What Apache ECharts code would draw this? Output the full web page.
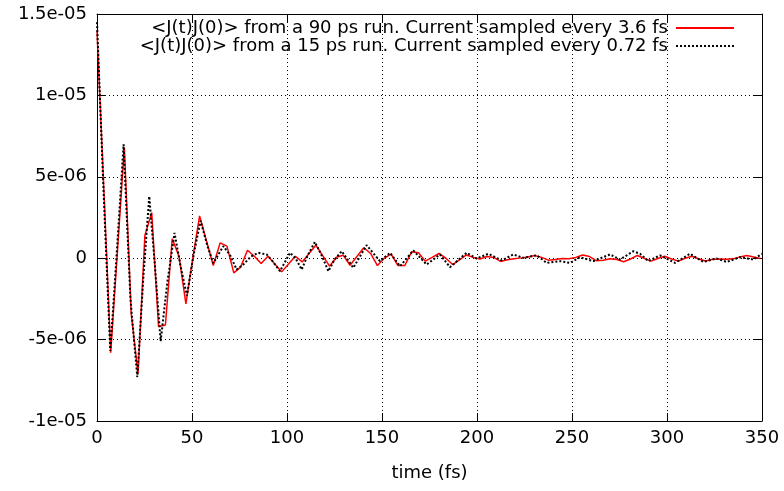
<!DOCTYPE html>
<html>
<head>
<meta charset="utf-8">
<script src="https://cdn.jsdelivr.net/npm/echarts@6/dist/echarts.min.js"></script>
<style>html,body{margin:0;padding:0;background:#fff}#c{width:784px;height:491px}</style>
</head>
<body>
<div id="c"></div>
<script>
// values in units of 1e-6
const redName = '<J(t)J(0)> from a 90 ps run. Current sampled every 3.6 fs';
const blackName = '<J(t)J(0)> from a 15 ps run. Current sampled every 0.72 fs';
const redTimes = [0,3.6,7.2,10.8,14.4,18,21.6,25.2,28.8,32.4,36,39.6,43.2,46.8,50.4,54,57.6,61.2,64.8,68.4,72,75.6,79.2,82.8,86.4,90,93.6,97.2,100.8,104.4,108,111.6,115.2,118.8,122.4,126,129.6,133.2,136.8,140.4,144,147.6,151.2,154.8,158.4,162,165.6,169.2,172.8,176.4,180,183.6,187.2,190.8,194.4,198,201.6,205.2,208.8,212.4,216,219.6,223.2,226.8,230.4,234,237.6,241.2,244.8,248.4,252,255.6,259.2,262.8,266.4,270,273.6,277.2,280.8,284.4,288,291.6,295.2,298.8,302.4,306,309.6,313.2,316.8,320.4,324,327.6,331.2,334.8,338.4,342,345.6,349.2];
const redValues = [14.0,4.2,-5.8,0.5,6.8,-3.4,-7.1,1.4,2.8,-4.2,-4.1,1.2,0.1,-2.8,0.0,2.6,1.07,-0.45,0.94,0.74,-0.9,-0.55,0.49,0.12,-0.33,0.12,-0.35,-0.84,-0.35,0.12,-0.23,0.29,0.8,0.16,-0.49,0.06,0.18,-0.43,0.1,0.64,0.29,-0.45,0.0,0.25,-0.45,-0.45,0.39,0.33,-0.18,0.05,0.29,0.0,-0.39,-0.1,0.2,0.05,-0.05,0.1,0.05,-0.2,-0.1,-0.03,0.02,0.08,0.17,0.05,-0.12,-0.08,-0.02,-0.04,0.05,0.2,0.1,-0.15,-0.12,-0.03,-0.08,-0.22,-0.05,0.17,0.0,-0.18,-0.02,0.12,-0.05,-0.18,0.0,0.12,-0.05,-0.17,-0.06,-0.05,-0.07,-0.04,0.08,0.16,0.08,-0.02];
const blackTimes = [0,3.5,7,10.5,14,17.6,21.2,24.5,27.5,30.5,33.5,37,40.8,44,47.3,51,54.5,58,61.2,66.5,70,73.5,77,81,84.9,89.3,92.5,96.3,101.6,104.5,107.7,111,114.7,118.5,121.8,125,128.8,134.9,141.9,148.9,154.2,159.5,166.5,173.5,180.5,185.8,194.5,199.8,206,213,219.1,224.4,231.4,236.7,243.7,249,254.2,261.2,270,275.3,282.3,285.8,290.2,296.3,304.2,312.1,319.1,326.1,331.4,338.4,345.4,350];
const blackValues = [14.5,4.0,-5.7,0.5,7.0,-2.5,-7.3,-1.0,3.8,-0.5,-5.1,-1.5,1.55,-0.5,-2.3,0.3,2.3,0.8,-0.3,0.74,0.2,-0.7,-0.39,0.1,0.33,0.23,-0.2,-0.8,0.33,0.0,-0.7,0.2,1.0,0.1,-0.8,-0.1,0.43,-0.59,0.8,-0.18,0.33,-0.49,0.47,-0.39,0.23,-0.55,0.33,-0.02,0.27,-0.14,0.23,0.02,0.18,-0.29,-0.18,-0.29,0.06,-0.18,0.23,-0.08,0.43,0.27,-0.18,0.18,-0.29,0.27,-0.23,-0.02,-0.23,0.06,-0.08,0.27];
const yTickLabels = ['-1e-05','-5e-06','0','5e-06','1e-05','1.5e-05'];
const xTickLabels = ['0','50','100','150','200','250','300','350'];

const U = 1e-6;
const redData = redTimes.map((t,i)=>[t, redValues[i]*U]);
const blackData = blackTimes.map((t,i)=>[t, blackValues[i]*U]);
const FONT = 'DejaVu Sans';
const FS = 18;
const grid = {left:97, right:22, top:14, bottom:70};
const gridLine = {show:true, lineStyle:{color:'#000', width:1, type:[1,3]}};
const legendCommon = {right:44, orient:'horizontal', align:'right', itemWidth:58, itemHeight:14,
  itemStyle:{opacity:0}, selectedMode:false,
  textStyle:{fontFamily:FONT, fontSize:FS, color:'#000', padding:[0,3,0,0]}};
const chart = echarts.init(document.getElementById('c'), null, {renderer:'canvas'});
chart.setOption({
  animation:false,
  backgroundColor:'#fff',
  grid: grid,
  legend: [
    Object.assign({data:[redName], top:14}, legendCommon),
    Object.assign({data:[blackName], top:32}, legendCommon)
  ],
  xAxis: [
    {type:'value', min:0, max:350, interval:50, position:'bottom',
     name:'time (fs)', nameLocation:'middle', nameGap:43,
     nameTextStyle:{fontFamily:FONT, fontSize:FS, color:'#000'},
     axisLine:{show:true, onZero:false, lineStyle:{color:'#000', width:1}},
     axisTick:{show:true, inside:true, length:8, lineStyle:{color:'#000'}},
     axisLabel:{fontFamily:FONT, fontSize:FS, color:'#000', margin:8,
       formatter:(v)=>xTickLabels[Math.round(v/50)]},
     splitLine:gridLine},
    {type:'value', min:0, max:350, interval:50, position:'top',
     axisLine:{show:true, onZero:false, lineStyle:{color:'#000', width:1}},
     axisTick:{show:true, inside:true, length:8, lineStyle:{color:'#000'}},
     axisLabel:{show:false}, splitLine:{show:false}}
  ],
  yAxis: [
    {type:'value', min:-1e-5, max:1.5e-5, interval:5e-6, position:'left',
     axisLine:{show:true, onZero:false, lineStyle:{color:'#000', width:1}},
     axisTick:{show:true, inside:true, length:8, lineStyle:{color:'#000'}},
     axisLabel:{fontFamily:FONT, fontSize:FS, color:'#000', margin:10,
       formatter:(v)=>yTickLabels[Math.round((v+1e-5)/5e-6)]},
     splitLine:gridLine},
    {type:'value', min:-1e-5, max:1.5e-5, interval:5e-6, position:'right',
     axisLine:{show:true, onZero:false, lineStyle:{color:'#000', width:1}},
     axisTick:{show:true, inside:true, length:8, lineStyle:{color:'#000'}},
     axisLabel:{show:false}, splitLine:{show:false}}
  ],
  series: [
    {name:redName, type:'line', data:redData, symbol:'none', xAxisIndex:0, yAxisIndex:0,
     lineStyle:{color:'#ff0000', width:1.5}, itemStyle:{color:'#ff0000'}, clip:true, z:2},
    {name:blackName, type:'line', data:blackData, symbol:'none', xAxisIndex:0, yAxisIndex:0,
     lineStyle:{color:'#000', width:2, type:[2,2]}, itemStyle:{color:'#000'}, clip:true, z:3}
  ]
});
</script>
</body>
</html>
